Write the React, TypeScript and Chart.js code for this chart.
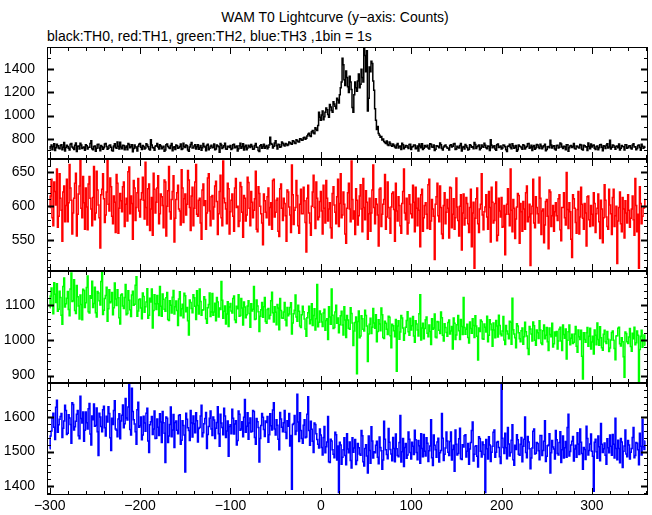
import React, { useEffect, useRef } from "react";
import { Chart, registerables } from "chart.js";

Chart.register(...registerables);

// ---------------- DATA ----------------
// 1 s bins from -300 s; values are given as two arrays per channel:
// even-second bins (t = -300, -298, ...) and odd-second bins (t = -299, -297, ...)
const T_START = -300;
const BIN = 1;
const X_MIN = -303;
const X_MAX = 362;
const xMajorTicks = [-300, -200, -100, 0, 100, 200, 300];
const xTickLabels = ["−300", "−200", "−100", "0", "100", "200", "300"];
const X_MINOR_STEP = 20;

const titleText = "WAM T0 Lightcurve (y−axis: Counts)";
const subtitleText = "black:TH0, red:TH1, green:TH2, blue:TH3 ,1bin = 1s";

// TH0 (black) even seconds
const th0Even = [
  712, 745, 730, 698, 752, 720, 741, 706, 768, 725,
  733, 702, 758, 719, 744, 690, 737, 761, 715, 728,
  749, 711, 726, 782, 704, 738, 717, 753, 696, 731,
  722, 760, 709, 741, 727, 694, 756, 718, 735, 770,
  713, 742, 726, 705, 751, 730, 688, 747, 721, 736,
  758, 707, 733, 719, 745, 712, 791, 724, 700, 739,
  728, 749, 714, 736, 703, 755, 722, 741, 697, 730,
  746, 717, 734, 708, 762, 725, 739, 692, 751, 720,
  737, 711, 748, 724, 701, 758, 729, 743, 706, 735,
  722, 754, 712, 738, 684, 747, 726, 761, 709, 733,
  741, 716, 752, 728, 695, 739, 718, 756, 731, 705,
  744, 724, 736, 712, 758, 727, 690, 749, 733, 718,
  742, 726, 812, 752, 735, 783, 712, 748, 730, 761,
  738, 755, 748, 766, 752, 778, 760, 785, 772, 798,
  790, 812, 805, 838, 826, 860, 850, 895, 872, 1030,
  960, 1040, 990, 1065, 1010, 1095, 1045, 1120, 1080, 1150,
  1110, 1240, 1495, 1310, 1385, 1250, 1340, 1225, 1030, 1290,
  1210, 1360, 1270, 1330, 1640, 1380, 1040, 1420, 1470, 1300,
  1060, 880, 845, 812, 790, 776, 760, 748, 772, 741,
  755, 728, 746, 719, 738, 761, 713, 742, 726, 750,
  708, 734, 747, 721, 695, 738, 756, 717, 729, 743,
  711, 752, 726, 699, 740, 732, 764, 715, 728, 746,
  720, 703, 748, 735, 759, 712, 727, 741, 694, 733,
  751, 724, 709, 742, 730, 768, 716, 738, 705, 747,
  727, 744, 713, 735, 792, 722, 739, 701, 754, 729,
  712, 746, 731, 690, 738, 725, 757, 718, 741, 706,
  736, 722, 749, 711, 733, 760, 726, 698, 742, 719,
  745, 715, 737, 729, 752, 708, 734, 786, 721, 739,
  702, 743, 727, 755, 716, 731, 748, 693, 737, 724,
  758, 712, 735, 720, 747, 703, 740, 731, 763, 714,
  729, 746, 708, 738, 722, 751, 697, 733, 744, 719,
  788, 726, 741, 710, 737, 755, 718, 732, 703, 748,
  724, 739, 712, 757, 730, 716, 745, 701, 736, 727,
];
// TH0 (black) odd seconds
const th0Odd = [
  731, 704, 756, 722, 739, 713, 748, 727, 695, 744,
  718, 752, 729, 707, 763, 736, 711, 745, 724, 701,
  740, 726, 759, 714, 733, 691, 750, 721, 742, 709,
  755, 732, 717, 746, 699, 738, 724, 771, 712, 729,
  743, 706, 737, 760, 723, 748, 715, 731, 694, 752,
  726, 741, 712, 757, 730, 703, 745, 719, 736, 760,
  711, 738, 727, 692, 749, 734, 716, 758, 725, 707,
  739, 723, 754, 714, 733, 745, 702, 728, 767, 719,
  748, 730, 709, 741, 722, 736, 697, 753, 718, 744,
  727, 705, 746, 731, 758, 716, 740, 712, 736, 725,
  708, 749, 723, 737, 714, 762, 730, 702, 744, 721,
  735, 751, 709, 742, 726, 698, 739, 717, 753, 730,
  713, 747, 758, 721, 764, 739, 752, 726, 771, 745,
  760, 742, 771, 756, 783, 764, 792, 775, 801, 786,
  808, 795, 824, 847, 819, 871, 843, 882, 915, 985,
  1005, 965, 1030, 1050, 985, 1075, 1030, 1100, 1060, 1135,
  1180, 1290, 1440, 1260, 1330, 1200, 1290, 1070, 1180, 1240,
  1300, 1240, 1400, 1290, 1520, 1560, 1150, 1380, 1450, 1220,
  960, 905, 830, 820, 798, 768, 780, 742, 758, 735,
  744, 721, 758, 733, 707, 749, 726, 740, 715, 752,
  729, 746, 713, 738, 754, 722, 708, 741, 733, 719,
  756, 728, 745, 710, 737, 723, 749, 702, 740, 731,
  717, 742, 729, 755, 708, 736, 720, 759, 727, 711,
  739, 703, 748, 726, 714, 751, 730, 745, 718, 734,
  761, 722, 737, 699, 744, 730, 712, 748, 725, 738,
  720, 743, 706, 735, 752, 714, 739, 727, 692, 746,
  733, 710, 741, 724, 757, 718, 744, 731, 709, 750,
  726, 752, 713, 740, 697, 731, 722, 747, 736, 712,
  741, 719, 763, 728, 735, 706, 749, 723, 742, 730,
  715, 737, 724, 751, 709, 743, 729, 698, 736, 755,
  742, 718, 733, 704, 748, 726, 739, 715, 757, 728,
  711, 745, 727, 736, 722, 703, 741, 730, 749, 717,
  738, 720, 747, 729, 706, 742, 725, 752, 718, 733,
];

// TH1 (red)
const th1Even = [
  598, 640, 571, 622, 655, 585, 612, 548, 630, 601,
  577, 662, 609, 590, 634, 556, 618, 671, 583, 605,
  627, 565, 644, 596, 613, 580, 652, 602, 538, 625,
  611, 587, 668, 593, 629, 574, 606, 647, 560, 619,
  592, 636, 603, 578, 658, 615, 551, 627, 598, 641,
  584, 620, 609, 665, 572, 633, 596, 557, 625, 606,
  645, 589, 614, 568, 636, 600, 659, 581, 622, 547,
  610, 631, 593, 654, 576, 618, 603, 639, 564, 628,
  597, 662, 585, 612, 551, 633, 608, 590, 648, 571,
  616, 599, 637, 558, 622, 583, 667, 605, 574, 626,
  592, 618, 563, 641, 600, 578, 629, 554, 612, 587,
  635, 571, 606, 594, 652, 562, 619, 589, 543, 608,
  583, 627, 598, 566, 640, 591, 612, 555, 633, 579,
  604, 548, 621, 587, 661, 573, 598, 616, 560, 625,
  589, 608, 532, 631, 575, 600, 646, 567, 612, 584,
  622, 559, 597, 638, 578, 605, 553, 629, 591, 614,
  570, 648, 587, 603, 545, 620, 596, 667, 581, 558,
  609, 586, 632, 562, 598, 623, 551, 612, 590, 661,
  574, 603, 541, 627, 588, 610, 566, 636, 582, 599,
  621, 548, 593, 614, 571, 604, 655, 580, 559, 617,
  589, 631, 562, 597, 612, 540, 625, 583, 605, 567,
  640, 578, 596, 521, 614, 586, 630, 559, 601, 574,
  610, 553, 627, 588, 566, 642, 579, 600, 535, 618,
  582, 604, 561, 625, 590, 508, 611, 574, 596, 648,
  565, 599, 584, 622, 547, 606, 579, 636, 557, 593,
  613, 570, 528, 603, 588, 655, 562, 597, 581, 619,
  545, 592, 607, 566, 630, 584, 512, 600, 575, 614,
  589, 643, 558, 596, 572, 610, 537, 621, 586, 563,
  605, 579, 617, 549, 598, 583, 650, 567, 592, 524,
  611, 576, 595, 559, 628, 582, 604, 541, 615, 570,
  588, 620, 561, 597, 577, 609, 546, 632, 584, 566,
  602, 558, 625, 586, 515, 598, 574, 613, 553, 590,
  617, 569, 596, 580, 641, 562, 508, 604, 585, 598,
];
const th1Odd = [
  615, 583, 636, 602, 569, 648, 594, 621, 577, 640,
  605, 627, 559, 612, 649, 588, 630, 597, 644, 566,
  599, 633, 612, 571, 659, 590, 624, 583, 617, 648,
  576, 621, 603, 642, 585, 615, 561, 634, 597, 608,
  629, 570, 612, 651, 589, 604, 638, 579, 620, 593,
  610, 643, 581, 598, 626, 564, 613, 649, 590, 627,
  574, 618, 601, 639, 556, 623, 592, 610, 645, 582,
  620, 596, 572, 627, 611, 587, 653, 598, 615, 571,
  636, 588, 609, 575, 624, 601, 566, 642, 593, 614,
  581, 630, 607, 589, 646, 571, 612, 596, 634, 559,
  609, 585, 627, 598, 570, 635, 591, 616, 578, 643,
  597, 622, 583, 611, 566, 629, 600, 575, 618, 591,
  614, 572, 605, 638, 584, 609, 563, 626, 597, 612,
  586, 624, 599, 561, 617, 594, 638, 571, 603, 589,
  628, 576, 612, 590, 557, 621, 598, 636, 580, 607,
  593, 631, 575, 612, 596, 568, 619, 602, 574, 640,
  604, 583, 621, 559, 597, 634, 577, 610, 593, 626,
  572, 615, 596, 641, 580, 606, 589, 563, 624, 598,
  611, 587, 625, 570, 603, 647, 584, 598, 560, 619,
  595, 634, 578, 601, 560, 622, 590, 612, 575, 603,
  583, 606, 628, 571, 594, 617, 563, 601, 588, 632,
  566, 610, 585, 603, 634, 577, 598, 552, 620, 591,
  597, 628, 568, 611, 583, 599, 556, 617, 590, 572,
  613, 574, 598, 540, 606, 582, 627, 561, 603, 587,
  592, 617, 566, 598, 628, 575, 604, 549, 612, 584,
  569, 601, 588, 626, 571, 594, 610, 552, 599, 616,
  604, 563, 596, 620, 577, 603, 589, 640, 568, 598,
  575, 612, 593, 546, 607, 585, 624, 570, 601, 592,
  586, 611, 565, 598, 620, 572, 595, 605, 551, 617,
  597, 560, 622, 584, 603, 566, 590, 614, 580, 601,
  571, 604, 589, 618, 552, 596, 583, 609, 570, 625,
  589, 613, 570, 600, 578, 621, 562, 596, 608, 575,
  594, 582, 615, 557, 601, 588, 629, 574, 597, 610,
];

// TH2 (green)
const th2Even = [
  1092, 1148, 1075, 1130, 1160, 1088, 1121, 1045, 1176, 1103,
  1138, 1069, 1190, 1112, 1084, 1155, 1097, 1128, 1058, 1141,
  1106, 1182, 1077, 1119, 1093, 1150, 1066, 1134, 1100, 1195,
  1085, 1127, 1054, 1143, 1109, 1072, 1162, 1098, 1120, 1046,
  1131, 1090, 1158, 1076, 1113, 1067, 1139, 1102, 1180, 1083,
  1117, 1061, 1124, 1095, 1146, 1071, 1108, 1035, 1129, 1087,
  1103, 1152, 1068, 1116, 1082, 1135, 1056, 1099, 1122, 1074,
  1111, 1042, 1137, 1089, 1064, 1126, 1093, 1015, 1107, 1078,
  1120, 1059, 1098, 1145, 1071, 1086, 1115, 1048, 1101, 1067,
  1132, 1080, 1055, 1108, 1091, 1166, 1062, 1097, 1074, 1039,
  1104, 1077, 1125, 1050, 1089, 1068, 1118, 1043, 1094, 1072,
  1112, 1037, 1083, 1152, 1060, 1097, 1025, 1086, 1065, 1121,
  1048, 1090, 1071, 1136, 1052, 1079, 1101, 1030, 1084, 1062,
  1107, 1041, 1069, 1093, 1018, 1075, 1128, 1054, 1082, 1036,
  1096, 1060, 1011, 1078, 1047, 1103, 1070, 1029, 1158, 1051,
  1074, 1039, 1088, 1056, 1002, 1066, 1145, 1033, 1080, 1048,
  1021, 1069, 1043, 1095, 1008, 1057, 1031, 1076, 985, 1050,
  905, 1083, 1012, 1061, 1026, 1070, 940, 1045, 1019, 1090,
  1034, 996, 1058, 1027, 1072, 1005, 1048, 1016, 1065, 979,
  1041, 1010, 912, 1055, 1023, 1063, 1000, 1037, 1081, 1014,
  1029, 1067, 994, 1046, 1012, 1129, 1035, 1004, 1058, 1020,
  1043, 988, 1031, 1074, 1007, 1052, 1019, 1064, 998, 1036,
  1011, 1057, 1026, 975, 1048, 1015, 1070, 1002, 1039, 1121,
  1017, 1045, 992, 1033, 1061, 1008, 1040, 944, 1025, 1053,
  1003, 1037, 1068, 1014, 1046, 983, 1029, 1056, 1009, 1042,
  1013, 1067, 988, 1026, 1004, 1051, 1119, 1018, 979, 1040,
  1004, 1027, 989, 1051, 1012, 960, 1032, 998, 1041, 986,
  1021, 1055, 992, 1027, 1004, 1036, 971, 1016, 1048, 990,
  1012, 975, 1031, 998, 1043, 1006, 947, 1024, 987, 1017,
  994, 1039, 966, 1010, 1028, 890, 1002, 1021, 983, 1034,
  995, 961, 1014, 1049, 986, 1007, 972, 1028, 991, 1003,
  978, 1022, 1000, 945, 1013, 1037, 984, 996, 895, 1019,
  991, 1033, 969, 1004, 987, 1026, 883, 1011, 980, 1015,
];
const th2Odd = [
  1125, 1098, 1163, 1107, 1082, 1139, 1071, 1152, 1094, 1119,
  1087, 1145, 1110, 1171, 1076, 1123, 1060, 1101, 1144, 1093,
  1149, 1081, 1126, 1167, 1104, 1078, 1138, 1112, 1166, 1073,
  1118, 1150, 1089, 1106, 1135, 1092, 1117, 1143, 1064, 1128,
  1097, 1121, 1072, 1140, 1086, 1128, 1099, 1156, 1068, 1115,
  1091, 1134, 1079, 1108, 1062, 1119, 1145, 1084, 1103, 1127,
  1070, 1096, 1131, 1088, 1120, 1059, 1112, 1077, 1141, 1095,
  1084, 1117, 1069, 1102, 1133, 1081, 1055, 1114, 1090, 1129,
  1096, 1140, 1074, 1110, 1085, 1123, 1061, 1092, 1134, 1080,
  1071, 1105, 1121, 1066, 1087, 1113, 1082, 1046, 1109, 1094,
  1083, 1118, 1058, 1096, 1129, 1070, 1091, 1108, 1064, 1097,
  1076, 1103, 1088, 1059, 1114, 1081, 1068, 1107, 1095, 1053,
  1087, 1061, 1112, 1078, 1095, 1044, 1091, 1118, 1063, 1080,
  1057, 1093, 1074, 1106, 1049, 1085, 1066, 1099, 1040, 1072,
  1081, 1032, 1064, 1096, 1058, 1042, 1089, 1061, 1038, 1083,
  1052, 1077, 1028, 1061, 1095, 1045, 1071, 1036, 1099, 1063,
  1044, 1082, 1015, 1057, 1070, 1034, 1092, 1049, 1026, 1066,
  1053, 1007, 1069, 1031, 1085, 1040, 1018, 1062, 1037, 1049,
  1072, 1025, 1046, 1091, 1008, 1054, 1031, 1068, 1013, 1045,
  1027, 1059, 1040, 1003, 1070, 1035, 1019, 1056, 1024, 1062,
  1041, 1012, 1055, 1029, 1075, 1001, 1048, 1033, 1066, 1010,
  1025, 1061, 1035, 1009, 1053, 1028, 1080, 1014, 1047, 1022,
  1050, 1018, 1039, 1063, 1002, 1044, 1027, 1059, 1016, 1036,
  1031, 1008, 1052, 1020, 1042, 1069, 1011, 1035, 1057, 1004,
  1046, 1023, 996, 1058, 1030, 1049, 1007, 1040, 1071, 1018,
  1026, 1001, 1042, 1018, 1054, 989, 1030, 1007, 1047, 1021,
  996, 1035, 1010, 1024, 977, 1039, 1018, 1052, 1000, 1029,
  1005, 1029, 988, 1043, 1014, 996, 1035, 1010, 981, 1023,
  1025, 998, 1037, 971, 1016, 1032, 1000, 1043, 1006, 991,
  1018, 983, 1029, 1002, 955, 1021, 994, 1036, 1011, 975,
  1011, 1029, 987, 1002, 1038, 979, 1017, 996, 1025, 968,
  1001, 1026, 977, 1012, 1034, 990, 1007, 953, 1023, 996,
  1009, 982, 1020, 1037, 993, 1014, 974, 1028, 999, 986,
];

// TH3 (blue)
const th3Even = [
  1508, 1560, 1612, 1535, 1650, 1578, 1602, 1541, 1589, 1620,
  1553, 1598, 1524, 1637, 1572, 1609, 1546, 1661, 1583, 1530,
  1615, 1566, 1640, 1519, 1593, 1574, 1627, 1488, 1601, 1558,
  1632, 1545, 1586, 1611, 1503, 1579, 1648, 1562, 1595, 1537,
  1606, 1569, 1655, 1592, 1695, 1548, 1617, 1580, 1521, 1644,
  1575, 1534, 1603, 1559, 1626, 1497, 1587, 1550, 1618, 1539,
  1571, 1610, 1526, 1584, 1468, 1597, 1545, 1630, 1563, 1512,
  1589, 1552, 1607, 1533, 1576, 1440, 1594, 1561, 1620, 1542,
  1581, 1613, 1528, 1570, 1635, 1555, 1596, 1509, 1573, 1618,
  1547, 1592, 1568, 1631, 1515, 1583, 1549, 1604, 1560, 1486,
  1578, 1623, 1551, 1590, 1532, 1609, 1566, 1543, 1652, 1574,
  1536, 1598, 1559, 1617, 1521, 1587, 1469, 1576, 1600, 1544,
  1585, 1527, 1610, 1563, 1642, 1548, 1577, 1505, 1595, 1558,
  1620, 1538, 1574, 1516, 1390, 1582, 1550, 1667, 1529, 1561,
  1524, 1593, 1542, 1660, 1518, 1565, 1497, 1579, 1535, 1510,
  1548, 1490, 1573, 1514, 1602, 1468, 1531, 1492, 1556, 1475,
  1380, 1519, 1483, 1540, 1461, 1507, 1528, 1452, 1498, 1535,
  1474, 1511, 1489, 1546, 1458, 1520, 1437, 1503, 1572, 1481,
  1496, 1530, 1464, 1512, 1448, 1588, 1505, 1479, 1527, 1493,
  1541, 1470, 1508, 1485, 1605, 1499, 1456, 1523, 1490, 1536,
  1478, 1515, 1562, 1497, 1532, 1466, 1509, 1550, 1487, 1524,
  1502, 1593, 1459, 1518, 1483, 1539, 1496, 1611, 1474, 1510,
  1531, 1488, 1557, 1506, 1442, 1521, 1494, 1568, 1477, 1513,
  1549, 1501, 1463, 1526, 1586, 1492, 1517, 1455, 1538, 1484,
  1520, 1380, 1508, 1543, 1471, 1515, 1563, 1498, 1529, 1485,
  1720, 1512, 1553, 1479, 1522, 1497, 1578, 1460, 1506, 1534,
  1489, 1541, 1515, 1601, 1482, 1528, 1450, 1510, 1566, 1495,
  1523, 1476, 1547, 1503, 1590, 1486, 1519, 1437, 1532, 1507,
  1561, 1494, 1526, 1468, 1545, 1511, 1483, 1609, 1500, 1530,
  1472, 1518, 1555, 1491, 1527, 1448, 1506, 1574, 1490, 1522,
  1501, 1384, 1536, 1480, 1514, 1582, 1497, 1525, 1463, 1511,
  1548, 1489, 1521, 1597, 1476, 1509, 1538, 1453, 1516, 1493,
  1532, 1478, 1509, 1570, 1488, 1524, 1461, 1515, 1594, 1506,
];
const th3Odd = [
  1545, 1598, 1571, 1629, 1556, 1594, 1611, 1568, 1635, 1550,
  1607, 1579, 1642, 1563, 1588, 1620, 1537, 1596, 1615, 1562,
  1584, 1625, 1551, 1604, 1639, 1576, 1558, 1612, 1573, 1622,
  1569, 1603, 1631, 1540, 1597, 1620, 1566, 1543, 1610, 1589,
  1636, 1581, 1598, 1630, 1564, 1685, 1593, 1558, 1622, 1571,
  1601, 1548, 1583, 1612, 1531, 1578, 1602, 1566, 1538, 1595,
  1547, 1586, 1617, 1553, 1601, 1526, 1579, 1543, 1608, 1585,
  1562, 1605, 1521, 1590, 1548, 1612, 1569, 1532, 1583, 1604,
  1555, 1590, 1567, 1604, 1543, 1581, 1614, 1550, 1597, 1566,
  1601, 1538, 1585, 1552, 1609, 1570, 1626, 1541, 1589, 1573,
  1552, 1597, 1580, 1519, 1618, 1562, 1587, 1600, 1556, 1613,
  1583, 1557, 1620, 1541, 1596, 1570, 1538, 1611, 1564, 1589,
  1602, 1549, 1575, 1621, 1566, 1593, 1536, 1614, 1571, 1584,
  1556, 1590, 1611, 1547, 1579, 1605, 1560, 1586, 1613, 1538,
  1577, 1540, 1609, 1561, 1588, 1530, 1583, 1552, 1521, 1566,
  1512, 1541, 1496, 1528, 1470, 1536, 1505, 1482, 1549, 1516,
  1527, 1463, 1505, 1488, 1552, 1496, 1474, 1540, 1510, 1462,
  1523, 1493, 1561, 1470, 1509, 1487, 1545, 1466, 1531, 1499,
  1518, 1483, 1542, 1502, 1475, 1536, 1491, 1567, 1506, 1473,
  1509, 1551, 1488, 1526, 1469, 1538, 1512, 1480, 1557, 1497,
  1527, 1491, 1534, 1476, 1517, 1552, 1485, 1501, 1540, 1471,
  1516, 1482, 1548, 1505, 1528, 1469, 1503, 1539, 1492, 1557,
  1498, 1529, 1475, 1518, 1563, 1490, 1537, 1479, 1520, 1546,
  1484, 1523, 1507, 1561, 1472, 1515, 1486, 1543, 1501, 1528,
  1491, 1535, 1478, 1519, 1498, 1556, 1483, 1527, 1512, 1465,
  1539, 1494, 1511, 1570, 1487, 1533, 1476, 1518, 1549, 1492,
  1521, 1470, 1536, 1497, 1544, 1508, 1481, 1559, 1493, 1526,
  1502, 1547, 1488, 1530, 1471, 1517, 1552, 1496, 1513, 1478,
  1534, 1490, 1558, 1505, 1481, 1529, 1570, 1487, 1519, 1544,
  1507, 1483, 1522, 1566, 1494, 1512, 1477, 1538, 1503, 1551,
  1486, 1527, 1499, 1545, 1473, 1521, 1508, 1489, 1537, 1496,
  1515, 1550, 1481, 1509, 1533, 1467, 1528, 1501, 1563, 1485,
  1519, 1498, 1541, 1482, 1526, 1505, 1553, 1490, 1514, 1531,
];

const th0Ticks = [800, 1000, 1200, 1400];
const th1Ticks = [550, 600, 650];
const th2Ticks = [900, 1000, 1100];
const th3Ticks = [1400, 1500, 1600];

// ---------------- PANEL SETUP ----------------
const PANEL_TOP = 47;
const PANEL_H = 112;
const AXIS_W = 47;
const RIGHT_PAD = 4;
const XAXIS_H = 20;
const FONT_FAMILY = "'Liberation Sans', Arial, Helvetica, sans-serif";

function interleave(even: number[], odd: number[]) {
  const out: number[] = [];
  for (let i = 0; i < even.length; i++) {
    out.push(even[i]);
    if (i < odd.length) out.push(odd[i]);
  }
  return out;
}

const panels = [
  { values: interleave(th0Even, th0Odd), color: "#000000", min: 625, max: 1593, ticks: th0Ticks, minorStep: 100 },
  { values: interleave(th1Even, th1Odd), color: "#ff0000", min: 504, max: 670, ticks: th1Ticks, minorStep: 10 },
  { values: interleave(th2Even, th2Odd), color: "#00ff00", min: 879, max: 1196, ticks: th2Ticks, minorStep: 20 },
  { values: interleave(th3Even, th3Odd), color: "#0000ff", min: 1373, max: 1700, ticks: th3Ticks, minorStep: 20 },
];

const framePlugin = {
  id: "pgframe",
  afterDatasetsDraw(chart: any, _args: any, opts: any) {
    const { ctx, chartArea: a, scales } = chart;
    const xs = scales.x;
    const ys = scales.y;
    const L = Math.round(a.left);
    const R = Math.round(a.right);
    const T = Math.round(a.top);
    const B = Math.round(a.bottom);
    ctx.save();
    ctx.strokeStyle = "#000";
    ctx.lineWidth = 1;
    ctx.strokeRect(L + 0.5, T + 0.5, R - L - 1, B - T - 1);

    const majLen = 7;
    const minLen = 4;
    for (let v = Math.ceil(X_MIN / X_MINOR_STEP) * X_MINOR_STEP; v <= X_MAX; v += X_MINOR_STEP) {
      const isMaj = xMajorTicks.includes(v);
      const len = isMaj ? majLen : minLen;
      const px = Math.round(xs.getPixelForValue(v)) + 0.5;
      ctx.beginPath();
      ctx.moveTo(px, T);
      ctx.lineTo(px, T + len);
      ctx.moveTo(px, B);
      ctx.lineTo(px, B - len);
      ctx.stroke();
    }
    const step = opts.minorStep;
    const majors: number[] = opts.majors;
    for (let v = Math.ceil(ys.min / step) * step; v <= ys.max; v += step) {
      const isMaj = majors.includes(v);
      const len = isMaj ? majLen : minLen;
      const py = Math.round(ys.getPixelForValue(v)) + 0.5;
      ctx.lineWidth = isMaj ? 2 : 1;
      ctx.beginPath();
      ctx.moveTo(L, py);
      ctx.lineTo(L + len, py);
      ctx.moveTo(R, py);
      ctx.lineTo(R - len, py);
      ctx.stroke();
    }
    ctx.restore();
  },
};

function makeConfig(p: any, isBottom: boolean) {
  const points = p.values.map((v: number, i: number) => ({ x: T_START + i * BIN, y: v }));
  return {
    type: "line",
    data: {
      datasets: [
        {
          data: points,
          borderColor: p.color,
          borderWidth: 1.5,
          pointRadius: 0,
          stepped: "middle",
          fill: false,
          tension: 0,
        },
      ],
    },
    options: {
      responsive: false,
      maintainAspectRatio: false,
      animation: false,
      devicePixelRatio: 1,
      events: [],
      layout: { padding: { left: 0, right: RIGHT_PAD, top: 0, bottom: 0 } },
      plugins: {
        legend: { display: false },
        tooltip: { enabled: false },
        title: { display: false },
        pgframe: { majors: p.ticks, minorStep: p.minorStep },
      },
      scales: {
        x: {
          type: "linear",
          min: X_MIN,
          max: X_MAX,
          grid: { display: false, drawTicks: false },
          border: { display: false },
          ticks: {
            display: isBottom,
            color: "#000",
            font: { family: FONT_FAMILY, size: 14 },
            padding: 3,
            autoSkip: false,
            maxRotation: 0,
            minRotation: 0,
            callback: (v: number) => {
              const k = xMajorTicks.indexOf(v);
              return k >= 0 ? xTickLabels[k] : "";
            },
          },
          afterBuildTicks: (s: any) => {
            s.ticks = xMajorTicks.map((v) => ({ value: v }));
          },
          afterFit: (s: any) => {
            s.height = isBottom ? XAXIS_H : 0;
            s.paddingLeft = 0;
            s.paddingRight = 0;
          },
        },
        y: {
          type: "linear",
          position: "left",
          min: p.min,
          max: p.max,
          grid: { display: false, drawTicks: false },
          border: { display: false },
          ticks: {
            color: "#000",
            font: { family: FONT_FAMILY, size: 14 },
            padding: 12,
            callback: (v: number) => String(v),
          },
          afterBuildTicks: (s: any) => {
            s.ticks = p.ticks.map((v: number) => ({ value: v }));
          },
          afterFit: (s: any) => {
            s.width = AXIS_W;
            s.paddingTop = 0;
            s.paddingBottom = 0;
          },
        },
      },
    },
    plugins: [framePlugin],
  };
}

export default function App() {
  const refs = [useRef<HTMLCanvasElement>(null), useRef<HTMLCanvasElement>(null), useRef<HTMLCanvasElement>(null), useRef<HTMLCanvasElement>(null)];

  useEffect(() => {
    const charts: Chart[] = [];
    panels.forEach((p, i) => {
      const c = refs[i].current;
      if (!c) return;
      charts.push(new Chart(c, makeConfig(p, i === panels.length - 1) as any));
    });
    return () => charts.forEach((ch) => ch.destroy());
  }, []);

  return (
    <div
      style={{
        position: "fixed",
        left: 0,
        top: 0,
        width: 652,
        height: 515,
        background: "#fff",
        overflow: "hidden",
        fontFamily: FONT_FAMILY,
        color: "#000",
      }}
    >
      <div
        style={{
          position: "absolute",
          left: 335,
          top: 9,
          transform: "translateX(-50%)",
          whiteSpace: "nowrap",
          fontSize: 14,
          lineHeight: "16px",
        }}
      >
        {titleText}
      </div>
      <div
        style={{
          position: "absolute",
          left: 47,
          top: 28,
          whiteSpace: "nowrap",
          fontSize: 14,
          lineHeight: "16px",
        }}
      >
        {subtitleText}
      </div>
      {panels.map((p, i) => {
        const isBottom = i === panels.length - 1;
        const h = PANEL_H + (isBottom ? XAXIS_H : 0);
        return (
          <canvas
            key={i}
            ref={refs[i]}
            width={652}
            height={h}
            style={{ position: "absolute", left: 0, top: PANEL_TOP + i * PANEL_H, width: 652, height: h, display: "block" }}
          />
        );
      })}
    </div>
  );
}
